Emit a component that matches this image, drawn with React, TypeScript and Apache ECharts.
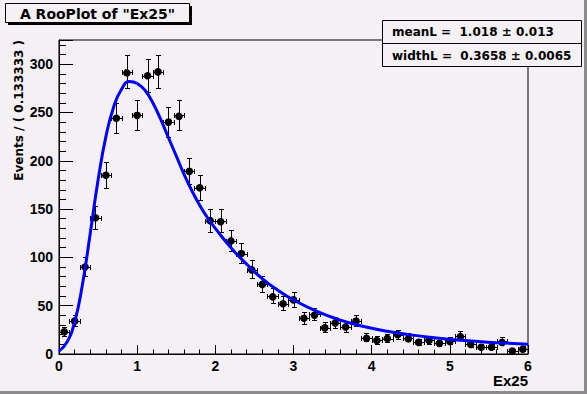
import React, { useEffect, useRef } from 'react';
import * as echarts from 'echarts';

// bin centres (45 bins of width 0.133333 on [0, 6])
const binCenters = [
  0.0667, 0.2, 0.3333, 0.4667, 0.6, 0.7333, 0.8667, 1.0, 1.1333, 1.2667,
  1.4, 1.5333, 1.6667, 1.8, 1.9333, 2.0667, 2.2, 2.3333, 2.4667, 2.6,
  2.7333, 2.8667, 3.0, 3.1333, 3.2667, 3.4, 3.5333, 3.6667, 3.8, 3.9333,
  4.0667, 4.2, 4.3333, 4.4667, 4.6, 4.7333, 4.8667, 5.0, 5.1333, 5.2667,
  5.4, 5.5333, 5.6667, 5.8, 5.9333,
];
const counts = [
  23, 34, 90, 141, 185, 244, 292, 247, 288, 292,
  240, 247, 189, 172, 138, 138, 117, 104, 87, 72,
  60, 52, 56, 37, 41, 27, 32, 28, 34, 17,
  14, 16, 20, 17, 12, 14, 11, 13, 19, 10,
  7, 7, 13, 3, 5,
];
const halfBin = 0.0667;

// fitted curve
const fitX = [
  0, 0.1, 0.2, 0.3, 0.4, 0.5, 0.6, 0.7, 0.8, 0.9,
  1.0, 1.1, 1.2, 1.3, 1.4, 1.5, 1.6, 1.7, 1.8, 1.9,
  2.0, 2.2, 2.4, 2.6, 2.8, 3.0, 3.3, 3.6, 3.9, 4.2,
  4.5, 4.8, 5.1, 5.4, 5.7, 6.0,
];
const fitY = [
  3, 12, 33, 72, 125, 180, 225, 256, 274, 282,
  280, 273, 260, 243, 224, 205, 186, 169, 154, 141,
  130, 110, 93, 78, 66, 56, 44, 35, 28.5, 23.5,
  19.8, 16.8, 14.5, 12.7, 11.3, 10.2,
];

const xTicks = [0, 6, 1];
const yTicks = [0, 325, 50];

const title = 'A RooPlot of "Ex25"';
const statLines = ['meanL =  1.018 \u00b1 0.013', 'widthL =  0.3658 \u00b1 0.0065'];
const yTitle = 'Events / ( 0.133333 )';
const xTitle = 'Ex25';

const BG = '#f4f0f4';
const FONT = '"Liberation Sans", Arial, sans-serif';
const WIDE = '"DejaVu Sans", sans-serif';

export default function App() {
  const ref = useRef<HTMLDivElement>(null);
  useEffect(() => {
    document.body.style.margin = '0';
    if (!ref.current) return;
    const chart = echarts.init(ref.current, null, { renderer: 'svg' });
    const pts = binCenters.map((x, i) => [x, counts[i]]);
    const fit = fitX.map((x, i) => [x, fitY[i]]);
    const labelStyle = { color: '#000', fontFamily: FONT, fontWeight: 'bold' as const, fontSize: 14 };
    const black = { color: '#000', width: 1 };
    const txt = (text: string, x: number, y: number, size: number, align: string, family: string, extra: any = {}) => ({
      type: 'text', x, y, z: 100, ...extra,
      style: {
        text, fill: '#000', fontFamily: family, fontWeight: 'bold', fontSize: size,
        align, textAlign: align, verticalAlign: 'middle', textVerticalAlign: 'middle',
      },
    });
    chart.setOption({
      animation: false,
      backgroundColor: BG,
      grid: { left: 59, top: 40, width: 469, height: 314, show: true, borderColor: '#000', borderWidth: 1, backgroundColor: BG },
      xAxis: [{
        type: 'value', min: xTicks[0], max: xTicks[1], interval: xTicks[2],
        axisLine: { show: true, lineStyle: black },
        axisTick: { show: true, inside: true, length: 9, lineStyle: black },
        minorTick: { show: true, splitNumber: 5, length: 4.5, lineStyle: black },
        axisLabel: { ...labelStyle, margin: 5 },
        splitLine: { show: false },
      }],
      yAxis: [{
        type: 'value', min: yTicks[0], max: yTicks[1], interval: yTicks[2],
        axisLine: { show: true, lineStyle: black },
        axisTick: { show: true, inside: true, length: 14, lineStyle: black },
        axisLabel: { ...labelStyle, margin: 6, formatter: (v: number) => (v % 50 === 0 ? String(v) : '') },
        splitLine: { show: false },
      }, {
        type: 'value', position: 'left', min: yTicks[0], max: yTicks[1], interval: 10,
        axisLine: { show: false },
        axisTick: { show: true, inside: true, length: 7, lineStyle: black },
        axisLabel: { show: false },
        splitLine: { show: false },
      }],
      series: [
        {
          type: 'custom', data: pts, z: 2, clip: false,
          renderItem: (params: any, api: any) => {
            const x = api.value(0), y = api.value(1);
            const s = Math.sqrt(y + 0.25);
            const up = s + 0.5, dn = s - 0.5;
            const c = api.coord([x, y]);
            const top = api.coord([x, y + up]);
            const bot = api.coord([x, y - dn]);
            const l = api.coord([x - halfBin, y]);
            const r = api.coord([x + halfBin, y]);
            const cx = Math.round(c[0]) + 0.5, cy = Math.round(c[1]) + 0.5;
            const ty = Math.round(top[1]) + 0.5, by = Math.round(bot[1]) + 0.5;
            const lx = Math.round(l[0]) + 0.5, rx = Math.round(r[0]) + 0.5;
            const st = { stroke: '#000', lineWidth: 1 };
            const cap = 2.5;
            const ln = (x1: number, y1: number, x2: number, y2: number) => ({ type: 'line', shape: { x1, y1, x2, y2 }, style: st });
            return {
              type: 'group', children: [
                ln(cx, ty, cx, by),
                ln(cx - cap, ty, cx + cap, ty),
                ln(cx - cap, by, cx + cap, by),
                ln(lx, cy, rx, cy),
                ln(lx, cy - cap, lx, cy + cap),
                ln(rx, cy - cap, rx, cy + cap),
                { type: 'circle', shape: { cx: c[0], cy: c[1], r: 3.8 }, style: { fill: '#000' } },
              ],
            };
          },
        },
        {
          type: 'line', data: fit, z: 3, smooth: 0.5, showSymbol: false,
          lineStyle: { color: '#0000ff', width: 3 },
        },
      ],
      graphic: [
        // canvas bevel
        { type: 'rect', shape: { x: 584, y: 0, width: 3, height: 394 }, style: { fill: '#8c8c8c' }, z: 90 },
        { type: 'rect', shape: { x: 0, y: 391, width: 587, height: 3 }, style: { fill: '#8c8c8c' }, z: 90 },
        // title box with shadow
        { type: 'rect', shape: { x: 8, y: 6, width: 184, height: 19 }, style: { fill: '#000' }, z: 95 },
        { type: 'rect', shape: { x: 5.5, y: 3.5, width: 184, height: 19 }, style: { fill: BG, stroke: '#000', lineWidth: 1 }, z: 96 },
        txt(title, 97.5, 13.5, 14, 'center', WIDE),
        // stats box
        { type: 'rect', shape: { x: 382.5, y: 20.5, width: 199, height: 46 }, style: { fill: BG, stroke: '#000', lineWidth: 1 }, z: 96 },
        { type: 'line', shape: { x1: 382.5, y1: 43.5, x2: 581.5, y2: 43.5 }, style: { stroke: '#000', lineWidth: 1 }, z: 97 },
        txt(statLines[0], 392, 32, 12, 'left', WIDE),
        txt(statLines[1], 392, 56, 12, 'left', WIDE),
        // axis titles
        txt(yTitle, 19, 40, 12, 'right', WIDE, { rotation: Math.PI / 2 }),
        txt(xTitle, 528, 380, 15, 'right', FONT),
      ],
    });
    return () => chart.dispose();
  }, []);
  return <div ref={ref} style={{ width: 587, height: 394 }} />;
}
